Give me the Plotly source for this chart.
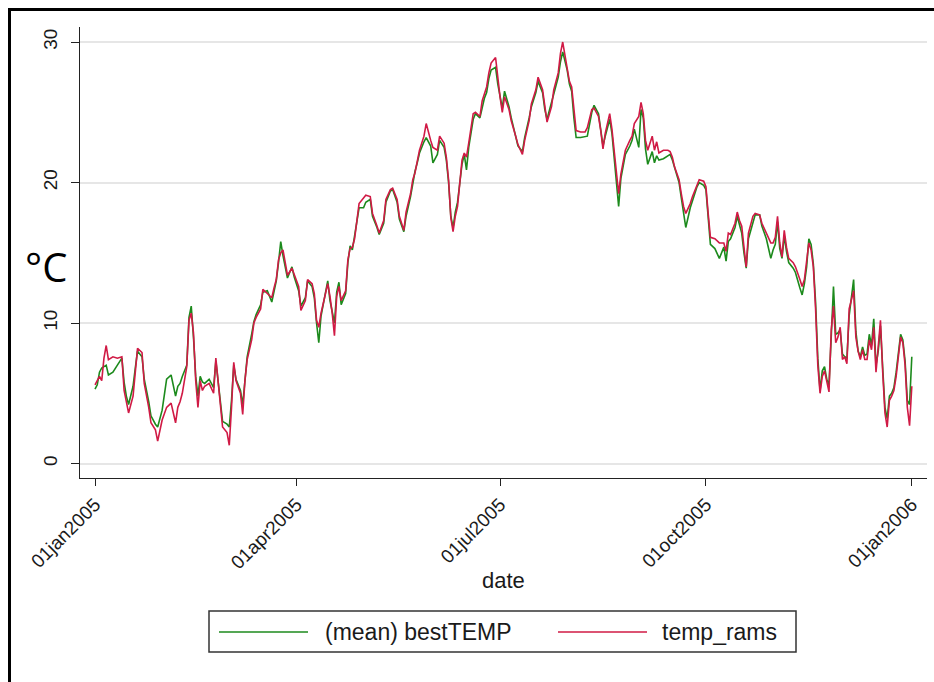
import pandas as pd
import plotly.graph_objects as go

# Day offsets from 1 Jan 2005 at which the daily series are sampled
day_offset = [
    0, 1, 2, 3, 4, 5, 6, 8, 10, 12, 13, 14, 15, 17, 18, 19, 21, 22, 24, 25,
    27, 28, 30, 32, 34, 36, 37, 38, 39, 41, 42, 43, 44, 45, 46, 47, 48, 49, 51, 53,
    54, 56, 57, 59, 60, 61, 62, 63, 65, 66, 67, 68, 70, 71, 72, 74, 75, 77, 79, 80,
    81, 82, 83, 84, 85, 86, 88, 89, 91, 92, 94, 95, 97, 98, 99, 100, 101, 103, 104, 105,
    106, 107, 108, 109, 110, 112, 113, 114, 115, 116, 117, 118, 120, 121, 123, 124, 126, 127, 129, 130,
    132, 133, 135, 136, 138, 139, 141, 142, 143, 144, 145, 147, 148, 150, 151, 153, 154, 156, 157, 158,
    159, 160, 161, 162, 163, 164, 165, 166, 167, 168, 169, 170, 172, 173, 174, 175, 176, 177, 179, 180,
    181, 182, 183, 185, 186, 188, 189, 191, 192, 194, 195, 197, 198, 200, 201, 202, 204, 205, 207, 208,
    209, 211, 212, 213, 214, 215, 217, 219, 220, 222, 223, 225, 226, 227, 228, 230, 231, 232, 233, 234,
    235, 236, 237, 239, 240, 241, 243, 244, 245, 246, 247, 249, 250, 251, 252, 254, 256, 257, 258, 259,
    261, 262, 263, 264, 266, 267, 269, 270, 272, 273, 274, 275, 277, 279, 281, 282, 283, 284, 286, 287,
    288, 289, 290, 291, 292, 294, 295, 297, 298, 300, 302, 303, 304, 305, 306, 307, 308, 309, 310, 312,
    313, 315, 316, 317, 318, 319, 320, 321, 322, 323, 324, 325, 326, 327, 328, 329, 330, 331, 332, 333,
    334, 335, 336, 337, 338, 339, 340, 341, 342, 343, 344, 345, 346, 347, 348, 349, 350, 351, 352, 353,
    354, 355, 356, 357, 358, 359, 360, 361, 362, 363, 364, 365,
]

# (mean) bestTEMP, degrees C
best_temp = [
    5.3, 5.6, 6.5, 6.8, 6.9, 7.0, 6.3, 6.5, 7.0, 7.5, 5.8, 4.8, 4.2, 5.5, 6.8, 8.0, 7.6, 6.0, 4.4, 3.4,
    2.8, 2.6, 3.8, 6.0, 6.3, 4.8, 5.5, 5.7, 6.2, 7.0, 10.4, 11.2, 9.0, 6.2, 4.8, 6.2, 5.8, 5.7, 6.0, 5.4,
    7.3, 4.5, 3.0, 2.8, 2.6, 4.5, 7.0, 6.0, 5.2, 4.2, 5.7, 7.6, 9.2, 10.1, 10.6, 11.3, 12.2, 12.3, 11.5, 12.4,
    13.0, 14.3, 15.8, 14.8, 14.0, 13.2, 14.0, 13.3, 12.3, 11.2, 11.8, 13.0, 12.6, 11.8, 10.0, 8.6, 10.5, 12.3, 13.0, 11.6,
    10.9, 10.0, 12.2, 12.9, 11.3, 12.1, 14.3, 15.5, 15.2, 16.2, 17.0, 18.2, 18.2, 18.6, 18.8, 17.6, 16.8, 16.3, 17.1, 18.6,
    19.4, 19.5, 18.6, 17.4, 16.5, 17.6, 19.0, 20.0, 20.8, 21.4, 22.1, 22.9, 23.2, 22.6, 21.4, 22.0, 23.0, 22.5, 21.6, 20.0,
    17.6, 16.8, 17.9, 18.6, 20.2, 21.3, 22.0, 20.9, 22.5, 23.6, 24.5, 24.9, 24.6, 25.3, 26.0, 26.4, 27.4, 28.0, 28.2, 27.0,
    26.0, 25.3, 26.5, 25.4, 24.6, 23.4, 22.6, 22.2, 23.2, 24.6, 25.4, 26.4, 27.2, 26.4, 25.2, 24.5, 25.6, 26.3, 27.5, 28.6,
    29.3, 28.0, 27.0, 26.5, 24.6, 23.2, 23.2, 23.3, 23.3, 25.0, 25.5, 24.9, 23.9, 22.6, 23.3, 24.5, 23.5, 21.8, 20.0, 18.3,
    20.3, 21.3, 22.0, 22.6, 23.0, 23.8, 22.5, 25.2, 24.6, 22.4, 21.3, 22.2, 21.4, 21.9, 21.6, 21.7, 21.9, 22.0, 21.6, 21.0,
    20.0, 18.9, 17.8, 16.8, 18.2, 18.7, 19.7, 20.0, 19.8, 19.5, 17.4, 15.6, 15.3, 14.6, 15.4, 14.4, 15.8, 16.0, 16.8, 17.6,
    17.0, 16.4, 15.0, 13.9, 16.0, 17.2, 17.7, 17.7, 16.9, 16.0, 14.6, 15.2, 15.6, 17.2, 15.3, 14.6, 16.2, 15.1, 14.3, 13.9,
    13.6, 12.5, 12.0, 12.8, 14.0, 16.0, 15.6, 14.2, 11.5, 7.5, 5.2, 6.6, 6.9, 6.0, 5.6, 9.0, 12.6, 9.2, 9.3, 9.5,
    7.8, 7.6, 7.5, 10.5, 12.0, 13.1, 9.4, 8.0, 7.6, 8.3, 7.7, 7.8, 9.2, 8.4, 10.3, 7.0, 8.0, 9.8, 6.8, 4.0,
    3.2, 4.8, 5.0, 5.4, 6.5, 7.8, 9.2, 8.8, 7.3, 4.5, 4.2, 7.6,
]

# temp_rams, degrees C
temp_rams = [
    5.6, 5.9, 6.2, 5.9, 7.5, 8.4, 7.4, 7.6, 7.5, 7.6, 5.2, 4.4, 3.6, 4.8, 6.5, 8.2, 7.9, 5.7, 4.0, 2.9,
    2.4, 1.6, 3.1, 4.0, 4.3, 2.9, 4.0, 4.4, 5.0, 6.9, 10.2, 10.7, 9.3, 5.9, 4.0, 5.9, 5.2, 5.5, 5.7, 5.0,
    7.5, 4.0, 2.6, 2.2, 1.3, 4.0, 7.2, 5.9, 5.0, 3.5, 5.9, 7.4, 8.8, 10.0, 10.4, 11.0, 12.4, 12.1, 11.8, 12.5,
    13.1, 14.5, 15.0, 15.2, 14.2, 13.4, 13.9, 13.5, 12.6, 10.9, 11.6, 13.1, 12.8, 12.1, 10.2, 9.7, 10.7, 12.1, 12.8, 11.9,
    10.7, 9.1, 11.9, 12.6, 11.6, 12.3, 14.5, 15.3, 15.4, 16.0, 17.1, 18.5, 18.9, 19.1, 19.0, 17.8, 16.9, 16.4, 17.3, 18.8,
    19.5, 19.6, 18.8, 17.6, 16.6, 17.9, 19.2, 20.2, 20.7, 21.6, 22.3, 23.3, 24.2, 23.0, 22.5, 22.3, 23.3, 22.8, 21.8, 20.2,
    17.5, 16.5, 17.6, 18.3, 19.9, 21.6, 22.1, 21.8, 22.8, 24.0, 24.9, 25.0, 24.7, 25.8, 26.3, 26.8, 27.8, 28.5, 28.9, 27.4,
    26.1, 25.0, 26.1, 25.2, 24.4, 23.3, 22.7, 22.0, 23.0, 24.4, 25.6, 26.6, 27.5, 26.6, 25.4, 24.3, 25.4, 26.6, 27.8, 29.2,
    30.0, 28.3, 27.2, 26.8, 25.0, 23.7, 23.6, 23.6, 23.9, 25.2, 25.3, 24.7, 23.7, 22.4, 23.5, 24.9, 23.8, 22.1, 20.6, 19.2,
    20.6, 21.6, 22.3, 23.0, 23.3, 24.2, 24.7, 25.7, 24.9, 23.0, 22.3, 23.3, 22.3, 22.9, 22.1, 22.3, 22.3, 22.2, 21.8, 21.1,
    20.2, 19.2, 18.3, 17.8, 18.5, 19.0, 19.9, 20.2, 20.1, 19.7, 17.8, 16.1, 16.0, 15.7, 15.7, 15.1, 16.4, 16.3, 17.1, 17.9,
    17.3, 16.9, 15.4, 14.0, 16.4, 17.6, 17.8, 17.7, 17.1, 16.4, 15.7, 15.7, 16.1, 17.6, 15.7, 14.7, 16.6, 15.4, 14.6, 14.3,
    14.0, 13.1, 12.6, 13.1, 14.3, 15.7, 15.2, 14.0, 11.0, 7.0, 5.0, 6.2, 6.6, 5.9, 5.1, 9.5, 11.2, 8.6, 9.0, 9.7,
    7.4, 7.6, 7.1, 11.0, 11.6, 12.3, 9.0, 8.0, 7.4, 8.1, 7.4, 7.4, 8.8, 8.1, 9.7, 6.5, 8.3, 10.2, 6.5, 3.6,
    2.6, 4.5, 4.8, 5.2, 6.2, 7.6, 9.0, 8.6, 7.0, 4.0, 2.7, 5.5,
]

tick_dates = ["2005-01-01", "2005-04-01", "2005-07-01", "2005-10-01", "2006-01-01"]
tick_labels = ["01jan2005", "01apr2005", "01jul2005", "01oct2005", "01jan2006"]
y_ticks = [0, 10, 20, 30]

series_names = ["(mean) bestTEMP", "temp_rams"]
series_colors = ["#1c8a1c", "#d01a45"]

dates = pd.Timestamp("2005-01-01") + pd.to_timedelta(day_offset, unit="D")

FONT = "Liberation Sans, Arial, sans-serif"
W, H = 934, 682
# plot area in pixels
PL, PR, PT, PB = 80, 927, 27, 478


def px(x):
    return (x - PL) / (PR - PL)


def py(y):
    return (PB - y) / (PB - PT)


fig = go.Figure()
for name, vals, col in zip(series_names, [best_temp, temp_rams], series_colors):
    fig.add_trace(go.Scatter(
        x=dates, y=vals, mode="lines", name=name,
        line=dict(color=col, width=1.6), showlegend=False,
    ))

shapes = []
annotations = []

# outer frame (top and left edges)
shapes.append(dict(type="line", xref="paper", yref="paper",
                   x0=px(8), x1=px(W), y0=py(9.5), y1=py(9.5),
                   line=dict(color="black", width=3)))
shapes.append(dict(type="line", xref="paper", yref="paper",
                   x0=px(9.5), x1=px(9.5), y0=py(8), y1=py(H),
                   line=dict(color="black", width=3)))

# legend box
shapes.append(dict(type="rect", xref="paper", yref="paper",
                   x0=px(209), x1=px(796), y0=py(611), y1=py(652),
                   line=dict(color="#333333", width=1.5), fillcolor="white"))
legend_items = [(219, 308, 323), (558, 647, 660)]
for (lx0, lx1, tx), name, col in zip(legend_items, series_names, series_colors):
    shapes.append(dict(type="line", xref="paper", yref="paper",
                       x0=px(lx0), x1=px(lx1), y0=py(632), y1=py(632),
                       line=dict(color=col, width=1.6)))
    annotations.append(dict(xref="paper", yref="paper", x=px(tx), y=py(632),
                            text=name, showarrow=False, xanchor="left", yanchor="middle",
                            font=dict(family=FONT, size=23, color="#1a1a1a")))

# axis title and unit label
annotations.append(dict(xref="paper", yref="paper", x=px(503), y=py(580),
                        text="date", showarrow=False, xanchor="center", yanchor="middle",
                        font=dict(family=FONT, size=22, color="#1a1a1a")))
annotations.append(dict(xref="paper", yref="paper", x=px(46), y=py(266),
                        text="°C", showarrow=False, xanchor="center", yanchor="middle",
                        font=dict(family="Open Sans, Liberation Sans, sans-serif", size=40, color="black")))

fig.update_layout(
    width=W, height=H,
    margin=dict(l=PL, r=W - PR, t=PT, b=H - PB),
    paper_bgcolor="white", plot_bgcolor="white",
    shapes=shapes, annotations=annotations,
    font=dict(family=FONT, color="#1a1a1a"),
)
fig.update_xaxes(
    type="date",
    range=["2004-12-25 07:00", "2006-01-07 19:00"],
    tickvals=tick_dates, ticktext=tick_labels, tickangle=-45,
    ticks="outside", ticklen=7, tickwidth=1.2, tickcolor="#222222",
    showline=True, linecolor="#222222", linewidth=1.2,
    showgrid=False, zeroline=False,
    tickfont=dict(family=FONT, size=19, color="#1a1a1a"),
)
fig.update_yaxes(
    range=[-1.03, 31.07],
    tickvals=y_ticks, tickangle=-90,
    ticks="outside", ticklen=8, tickwidth=1.2, tickcolor="#222222",
    showline=True, linecolor="#222222", linewidth=1.2,
    showgrid=True, gridcolor="#e6e6e6", gridwidth=1.5, zeroline=False,
    ticklabelstandoff=6,
    tickfont=dict(family=FONT, size=19, color="#1a1a1a"),
)

fig.write_html("out.html")
